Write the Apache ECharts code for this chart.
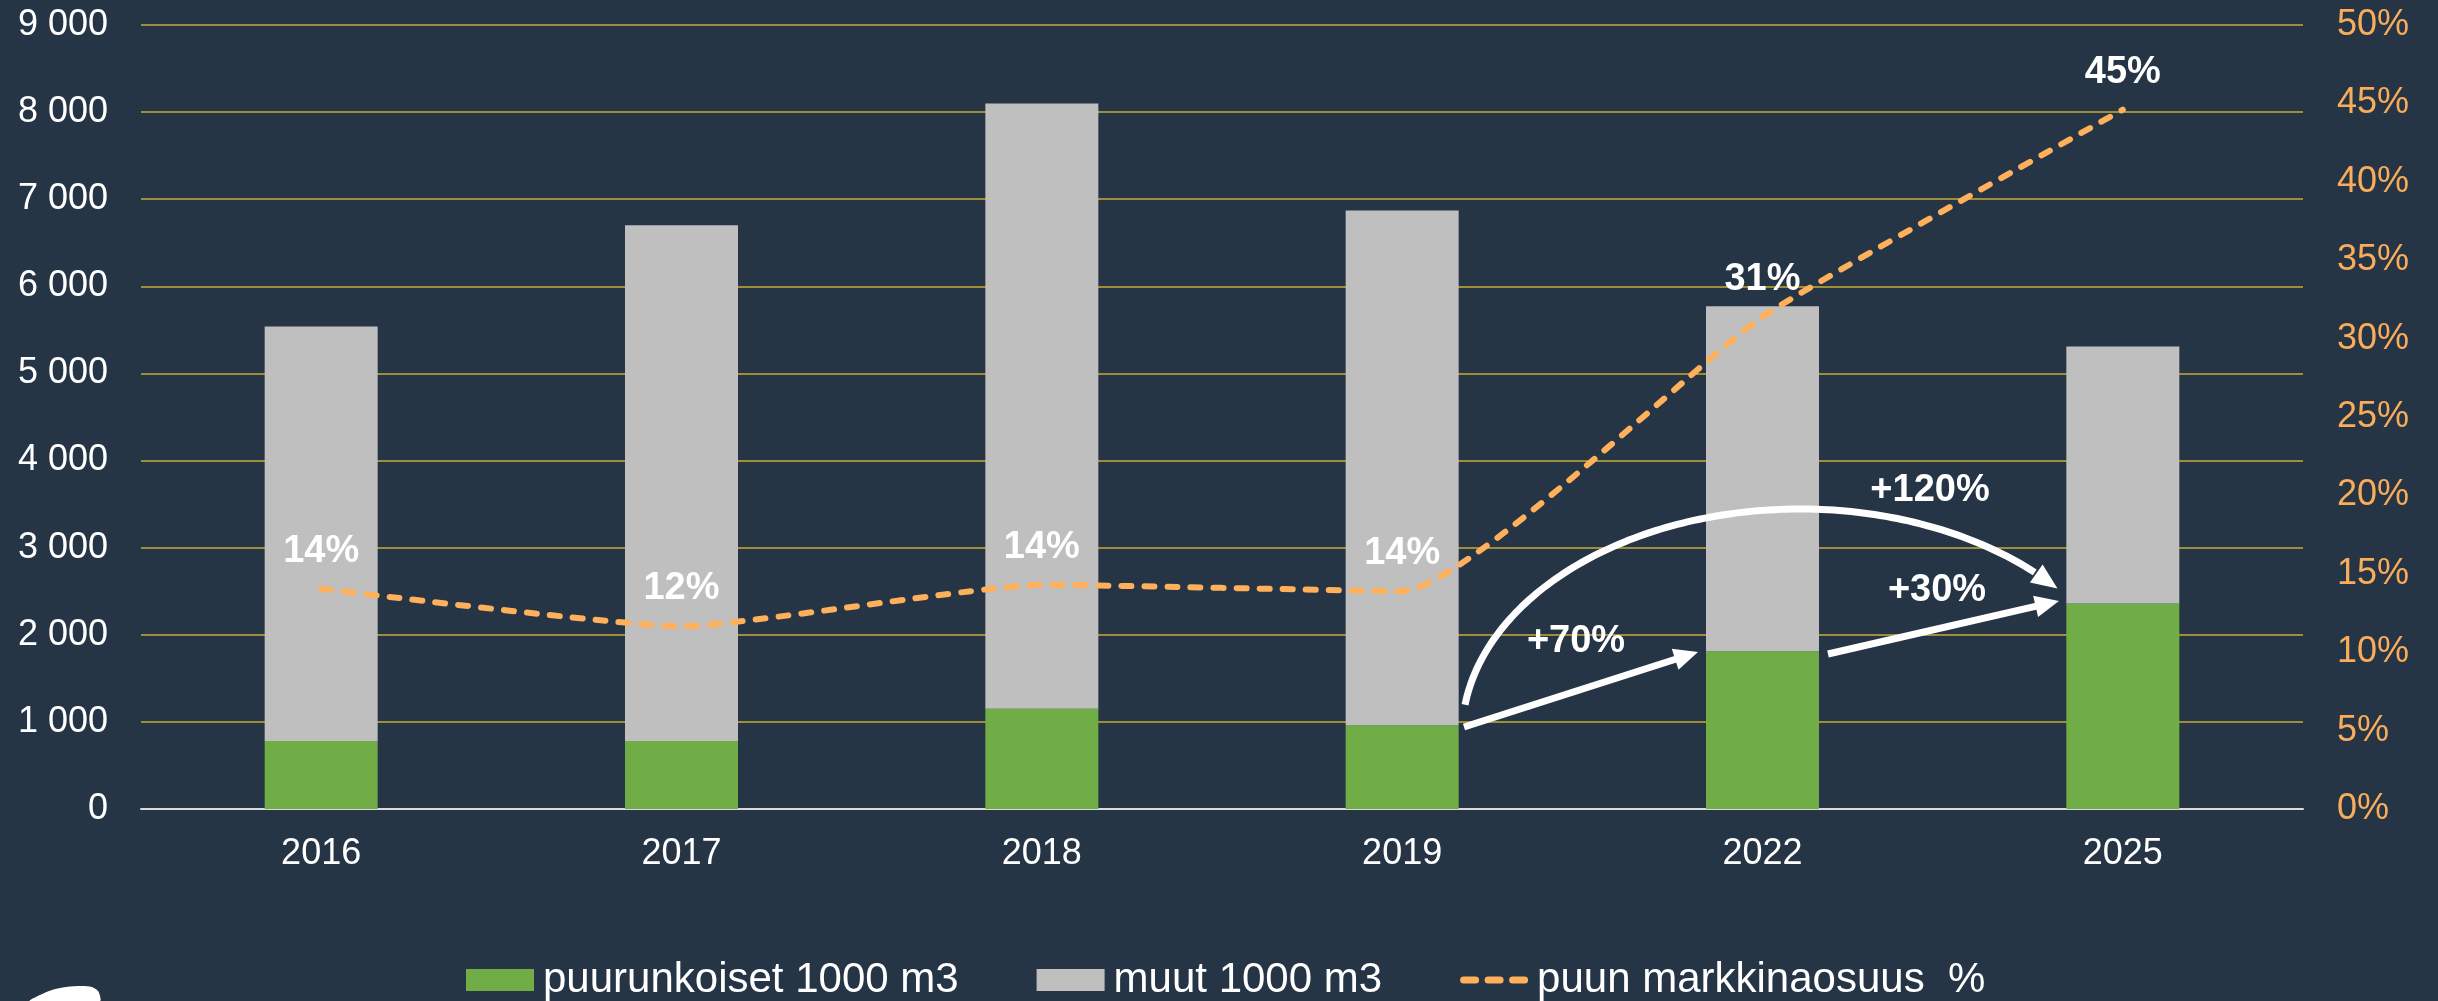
<!DOCTYPE html>
<html>
<head>
<meta charset="utf-8">
<style>
html,body{margin:0;padding:0;background:#253546;}
#c{width:2438px;height:1001px;}
</style>
<script src="https://cdn.jsdelivr.net/npm/echarts@6/dist/echarts.min.js"></script>
</head>
<body>
<div id="c"></div>
<script>
// ---- data ----
const categories = ['2016', '2017', '2018', '2019', '2022', '2025'];
const woodVolume = [780, 780, 1150, 960, 1810, 2360];      // puurunkoiset 1000 m3
const otherVolume = [4760, 5920, 6950, 5910, 3960, 2950];  // muut 1000 m3
const woodShare = [14.05, 11.65, 14.3, 13.9, 31.4, 44.6];  // puun markkinaosuus %
const seriesNames = ['puurunkoiset 1000 m3', 'muut 1000 m3', 'puun markkinaosuus  %'];
const leftAxisMax = 9000, leftAxisStep = 1000;
const rightAxisMax = 50, rightAxisStep = 5;
const changeLabels = ['+70%', '+120%', '+30%'];

const FONT = "'Liberation Sans', Arial, sans-serif";
const WHITE = '#FFFFFF';
const ORANGE = '#FFB05A';

const chart = echarts.init(document.getElementById('c'), null, {renderer: 'canvas'});

// ---- annotation geometry helpers ----
function headPoints(tx, ty, ux, uy, len, half) {
  const bx = tx - ux * len, by = ty - uy * len;
  const nx = -uy, ny = ux;
  return [[tx, ty], [bx + nx * half, by + ny * half], [bx - nx * half, by - ny * half]];
}
function straightArrow(x1, y1, x2, y2) {
  const L = Math.hypot(x2 - x1, y2 - y1);
  const ux = (x2 - x1) / L, uy = (y2 - y1) / L;
  const len = 24, half = 11;
  return [
    {type: 'polyline', shape: {points: [[x1, y1], [x2 - ux * (len - 2), y2 - uy * (len - 2)]]},
     style: {stroke: WHITE, lineWidth: 7, fill: null}, z: 100},
    {type: 'polygon', shape: {points: headPoints(x2, y2, ux, uy, len, half)},
     style: {fill: WHITE}, z: 100}
  ];
}
function arcArrow(cx, cy, rx, ry, a0, a1, aTip) {
  const pts = [];
  const rad = Math.PI / 180;
  for (let a = a0; a >= a1; a -= 1) {
    pts.push([cx + rx * Math.cos(a * rad), cy - ry * Math.sin(a * rad)]);
  }
  pts.push([cx + rx * Math.cos(a1 * rad), cy - ry * Math.sin(a1 * rad)]);
  const ex = cx + rx * Math.cos(a1 * rad), ey = cy - ry * Math.sin(a1 * rad);
  const tx = cx + rx * Math.cos(aTip * rad), ty = cy - ry * Math.sin(aTip * rad);
  const L = Math.hypot(tx - ex, ty - ey);
  const ux = (tx - ex) / L, uy = (ty - ey) / L;
  return [
    {type: 'polyline', shape: {points: pts}, style: {stroke: WHITE, lineWidth: 7, fill: null}, z: 100},
    {type: 'polygon', shape: {points: headPoints(tx + ux * 2, ty + uy * 2, ux, uy, 26, 11)},
     style: {fill: WHITE}, z: 100}
  ];
}
function label(text, x, y) {
  return {type: 'text', x: x, y: y, z: 101,
    style: {text: text, fill: WHITE, font: 'bold 38px ' + FONT, align: 'center', verticalAlign: 'middle'}};
}

const graphics = []
  .concat(straightArrow(1464, 727, 1698, 652))
  .concat(straightArrow(1828, 654, 2059, 601))
  .concat(arcArrow(1800, 735, 338, 226, 172.3, 46, 40.8))
  .concat([
    label(changeLabels[0], 1576, 642),
    label(changeLabels[1], 1930, 491),
    label(changeLabels[2], 1937, 591),
    {type: 'polygon', z: 100,
     shape: {points: [[30, 1001], [40, 995], [52, 990], [66, 987], [82, 986], [92, 987], [98, 991], [100, 996], [100, 1001]], smooth: 0.3},
     style: {fill: WHITE}}
  ]);

// legend icon for the dashed line: three thick rounded dashes inside a 68x22 box
const dashIcon = 'path://M0,0L0,0M68,22L68,22' +
  'M3.5,7.5L15.5,7.5A3.5,3.5,0,0,1,15.5,14.5L3.5,14.5A3.5,3.5,0,0,1,3.5,7.5Z' +
  'M28,7.5L40,7.5A3.5,3.5,0,0,1,40,14.5L28,14.5A3.5,3.5,0,0,1,28,7.5Z' +
  'M52.5,7.5L64.5,7.5A3.5,3.5,0,0,1,64.5,14.5L52.5,14.5A3.5,3.5,0,0,1,52.5,7.5Z';

const option = {
  backgroundColor: '#253546',
  animation: false,
  textStyle: {fontFamily: FONT},
  grid: {left: 141, right: 135, top: 25, bottom: 192, containLabel: false},
  legend: {
    left: 466, top: 959, padding: 0,
    itemWidth: 68, itemHeight: 22, itemGap: 78,
    textStyle: {color: WHITE, fontSize: 42, fontFamily: FONT, padding: [0, 0, 0, 4]},
    data: [
      {name: seriesNames[0], icon: 'rect'},
      {name: seriesNames[1], icon: 'rect'},
      {name: seriesNames[2], icon: dashIcon, itemStyle: {color: ORANGE, opacity: 1}}
    ]
  },
  xAxis: {
    type: 'category', data: categories,
    axisLine: {show: true, lineStyle: {color: '#D9D9D9', width: 2}},
    axisTick: {show: false},
    axisLabel: {color: WHITE, fontSize: 36, fontFamily: FONT, margin: 27}
  },
  yAxis: [
    {
      type: 'value', min: 0, max: leftAxisMax, interval: leftAxisStep,
      axisLine: {show: false}, axisTick: {show: false},
      splitLine: {show: true, lineStyle: {color: '#A08D38', width: 2}},
      axisLabel: {color: WHITE, fontSize: 36, fontFamily: FONT, margin: 33,
        formatter: v => v === 0 ? '0' : (v / 1000) + ' 000'}
    },
    {
      type: 'value', min: 0, max: rightAxisMax, interval: rightAxisStep, position: 'right',
      axisLine: {show: false}, axisTick: {show: false}, splitLine: {show: false},
      axisLabel: {color: '#F9AD5A', fontSize: 36, fontFamily: FONT, margin: 34,
        formatter: v => v + '%'}
    }
  ],
  series: [
    {
      name: seriesNames[0], type: 'bar', stack: 'v', data: woodVolume, barWidth: 113,
      itemStyle: {color: '#70AD47'}, z: 2
    },
    {
      name: seriesNames[1], type: 'bar', stack: 'v', data: otherVolume, barWidth: 113,
      itemStyle: {color: '#BFBFBF'}, z: 2
    },
    {
      name: seriesNames[2], type: 'line', yAxisIndex: 1, data: woodShare,
      smooth: 0.15, symbol: 'circle', symbolSize: 1, showSymbol: true, z: 5,
      lineStyle: {color: ORANGE, width: 6, type: [10, 13], cap: 'round'},
      itemStyle: {color: ORANGE},
      label: {show: true, position: 'top', distance: 18, color: WHITE,
        fontSize: 38, fontWeight: 'bold', fontFamily: FONT,
        formatter: p => Math.round(p.value) + '%'}
    }
  ],
  graphic: graphics
};
chart.setOption(option);
</script>
</body>
</html>
